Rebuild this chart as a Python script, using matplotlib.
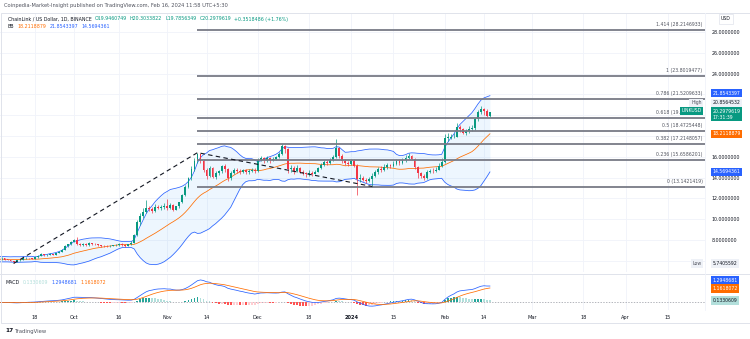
import numpy as np
import pandas as pd
import matplotlib
matplotlib.use("Agg")
import matplotlib.pyplot as plt
import matplotlib.dates as mdates
from matplotlib.patches import Rectangle

# ChainLink / US Dollar daily candles (Binance), 18 Aug 2023 -> 16 Feb 2024
first_open = 6.35

close_aug = [6.22, 6.27, 6.30, 6.14, 5.97, 6.16, 6.04, 6.06, 6.01, 6.05, 6.08, 6.52, 6.36, 6.21,
             6.08, 6.11, 6.13, 6.06, 6.10, 6.16]
high_aug = [6.45, 6.36, 6.38, 6.33, 6.18, 6.22, 6.20, 6.12, 6.09, 6.09, 6.12, 6.65, 6.60, 6.40,
            6.25, 6.15, 6.18, 6.16, 6.14, 6.22]
low_aug = [6.05, 6.14, 6.20, 6.08, 5.90, 5.94, 5.99, 6.00, 5.98, 5.99, 6.01, 6.05, 6.30, 6.15,
           6.02, 6.06, 6.07, 6.02, 6.03, 6.06]

close_sep = [6.24, 6.12, 6.10, 5.98, 5.88, 6.05, 6.12, 6.24, 6.28, 6.26, 6.21, 6.33, 6.47, 6.62,
             6.52, 6.58, 6.66, 6.60, 6.74, 6.88, 7.05, 7.40, 7.58, 7.82]
high_sep = [6.32, 6.27, 6.16, 6.12, 6.02, 6.10, 6.18, 6.30, 6.34, 6.31, 6.28, 6.38, 6.52, 6.70,
            6.66, 6.63, 6.70, 6.69, 6.78, 6.92, 7.12, 7.48, 7.66, 7.90]
low_sep = [6.10, 6.05, 6.04, 5.94, 5.7405592, 5.86, 6.00, 6.08, 6.19, 6.21, 6.16, 6.19, 6.30, 6.44,
           6.46, 6.48, 6.55, 6.55, 6.57, 6.70, 6.84, 7.02, 7.33, 7.52]

close_oct = [8.02, 7.58, 7.52, 7.63, 7.49, 7.68, 7.63, 7.58, 7.50, 7.45, 7.40, 7.38, 7.45, 7.50,
             7.52, 7.60, 7.50, 7.44, 7.58, 7.74, 8.45, 9.70, 10.30, 10.68, 11.10, 10.98, 10.74,
             11.18, 11.10, 11.16, 11.26]
high_oct = [8.12, 8.30, 7.70, 7.75, 7.70, 7.78, 7.74, 7.70, 7.64, 7.56, 7.52, 7.48, 7.52, 7.56,
            7.58, 7.72, 7.68, 7.58, 7.66, 7.92, 8.60, 9.90, 10.55, 11.05, 11.80, 11.30, 11.15,
            11.45, 11.35, 11.40, 11.55]
low_oct = [7.78, 7.50, 7.40, 7.46, 7.40, 7.44, 7.56, 7.52, 7.42, 7.36, 7.30, 7.28, 7.32, 7.40,
           7.44, 7.46, 7.40, 7.35, 7.40, 7.52, 7.70, 8.38, 9.45, 10.10, 10.55, 10.80, 10.60,
           10.70, 10.95, 10.90, 11.00]

close_nov = [11.05, 11.40, 10.88, 11.22, 11.62, 12.30, 13.10, 13.92, 14.80, 15.58, 16.25, 15.62,
             14.70, 14.18, 14.92, 14.08, 14.42, 14.60, 15.08, 14.78, 13.92, 14.48, 14.70, 14.66,
             14.55, 14.72, 14.50, 14.62, 14.76, 14.64]
high_nov = [11.90, 11.55, 11.45, 11.30, 11.70, 12.45, 13.30, 14.10, 15.10, 15.90, 16.4003650,
            16.30, 15.75, 14.90, 15.10, 15.00, 14.60, 14.75, 15.20, 15.35, 14.90, 14.62, 14.95,
            14.95, 14.80, 14.85, 14.80, 14.78, 14.95, 14.88]
low_nov = [10.90, 10.95, 10.75, 10.85, 11.10, 11.55, 12.20, 13.00, 13.75, 14.60, 15.45, 15.40,
           14.50, 13.90, 14.05, 13.95, 13.85, 14.25, 14.45, 14.55, 13.70, 13.80, 14.35, 14.45,
           14.35, 14.40, 14.30, 14.35, 14.50, 14.40]

close_dec = [15.72, 15.88, 15.65, 15.90, 15.70, 15.82, 15.95, 16.30, 17.00, 16.75, 14.85, 14.95,
             14.60, 14.95, 14.55, 14.45, 14.30, 14.48, 14.35, 14.58, 14.90, 15.25, 15.50, 15.40,
             15.70, 15.95, 16.80, 16.05, 15.60, 15.45, 15.30]
high_dec = [15.90, 16.05, 15.98, 16.05, 15.95, 16.00, 16.10, 16.45, 17.20, 17.10, 16.80, 15.25,
            15.10, 15.20, 15.05, 14.75, 14.55, 14.70, 14.65, 14.70, 15.05, 15.45, 15.70, 15.65,
            15.85, 16.15, 17.75, 16.95, 16.25, 15.80, 15.55]
low_dec = [14.55, 15.55, 15.45, 15.50, 15.45, 15.55, 15.70, 15.85, 16.20, 16.40, 14.40, 14.55,
           14.35, 14.50, 14.40, 14.25, 14.10, 14.20, 14.15, 14.30, 14.50, 14.80, 15.15, 15.20,
           15.30, 15.60, 15.85, 15.90, 15.45, 15.25, 15.10]

close_jan = [15.55, 15.15, 13.85, 14.00, 13.80, 13.70, 13.85, 14.20, 14.50, 14.80, 14.70, 15.00,
             15.20, 15.10, 15.35, 15.55, 15.40, 15.65, 15.90, 16.10, 15.80, 15.00, 14.40, 14.15,
             13.95, 14.50, 14.65, 14.60, 14.75, 15.15, 15.50]
high_jan = [15.75, 15.80, 15.30, 14.35, 14.20, 13.95, 14.05, 14.45, 14.75, 15.05, 15.10, 15.35,
            15.45, 15.35, 15.60, 15.75, 15.75, 15.90, 16.15, 16.35, 16.20, 15.90, 15.15, 14.55,
            14.30, 14.70, 14.85, 14.90, 15.00, 15.45, 15.85]
low_jan = [15.20, 15.00, 12.30, 13.60, 13.65, 13.50, 13.55, 13.1421419, 14.05, 14.30, 14.55,
           14.60, 14.85, 14.95, 15.00, 15.25, 15.25, 15.30, 15.50, 15.75, 15.65, 14.85, 14.00,
           13.95, 13.75, 13.85, 14.40, 14.45, 14.50, 14.75, 15.05]

close_feb = [17.85, 17.85, 17.90, 17.95, 18.85, 18.65, 18.25, 18.45, 18.65, 18.75, 19.60, 20.30,
             20.55, 20.40, 19.9460749, 20.2979619]
high_feb = [18.15, 18.30, 18.20, 18.30, 19.25, 19.05, 18.80, 18.70, 18.95, 19.05, 19.75, 20.50,
            20.8564532, 20.70, 20.55, 20.3033822]
low_feb = [15.40, 17.55, 17.75, 17.80, 17.90, 18.40, 18.15, 18.10, 18.30, 18.50, 18.60, 19.45,
           20.10, 20.05, 19.80, 19.7856349]

# indicator readouts of the last bar
bb_basis, bb_upper, bb_lower = 18.2118879, 21.8543397, 14.5694361
macd_hist, macd_line, macd_signal = 0.1330609, 1.2948681, 1.1618072

# trend based fib extension: anchors and levels
fib_anchor_dates = ["2023-09-11", "2023-11-11", "2024-01-08"]
fib_anchor_prices = [5.7405592, 16.4003650, 13.1421419]
fib_levels = ["0", "0.236", "0.382", "0.5", "0.618", "0.786", "1", "1.414"]
fib_prices = [13.1421419, 15.6586201, 17.2148057, 18.4725448, 19.7299019, 21.5209633,
              23.8019477, 28.2146933]

# time axis labels
tick_dates = ["2023-09-18", "2023-10-01", "2023-10-16", "2023-11-01", "2023-11-14", "2023-12-01",
              "2023-12-18", "2024-01-01", "2024-01-15", "2024-02-01", "2024-02-14", "2024-03-01",
              "2024-03-18", "2024-04-01", "2024-04-15"]
tick_labels = ["18", "Oct", "16", "Nov", "14", "Dec", "18", "2024", "15", "Feb", "14", "Mar",
               "18", "Apr", "15"]
price_ticks = [6, 8, 10, 12, 14, 16, 18, 20, 22, 24, 26, 28]
hidden_ticks = [6, 18, 20, 22]   # sit under the price tags

# ---- assemble series ----
close = close_aug + close_sep + close_oct + close_nov + close_dec + close_jan + close_feb
high = high_aug + high_sep + high_oct + high_nov + high_dec + high_jan + high_feb
low = low_aug + low_sep + low_oct + low_nov + low_dec + low_jan + low_feb
opn = [first_open] + close[:-1]
dates = pd.date_range("2023-08-18", periods=len(close), freq="D")

df = pd.DataFrame({"open": opn, "high": high, "low": low, "close": close}, index=dates)

# Bollinger bands (20, 2)
basis = df["close"].rolling(20).mean()
dev = df["close"].rolling(20).std(ddof=0)
upper = basis + 2 * dev
lower = basis - 2 * dev

# MACD (12, 26, 9)
ema12 = df["close"].ewm(span=12, adjust=False).mean()
ema26 = df["close"].ewm(span=26, adjust=False).mean()
macd = ema12 - ema26
signal = macd.ewm(span=9, adjust=False).mean()
hist = macd - signal

UP, DOWN = "#089981", "#f23645"
BLUE, ORANGE = "#2962ff", "#ff6d00"
TXT = "#131722"
GREY = "#50535e"
GRID = "#f0f3fa"
FS = 3.4

W, H = 750, 339
fig = plt.figure(figsize=(7.5, 3.39), dpi=100)
fig.patch.set_facecolor("white")


def fx(x):
    return x / W


def fy(y):
    return 1 - y / H


ax = fig.add_axes([0, fy(272), fx(705), fy(13) - fy(272)])
axm = fig.add_axes([0, fy(310), fx(705), fy(275) - fy(310)], sharex=ax)

xn = mdates.date2num(df.index)
x0 = mdates.date2num(pd.Timestamp("2023-09-06 12:00"))
x1 = mdates.date2num(pd.Timestamp("2024-04-27 08:00"))

# ---- price panel ----
ax.fill_between(xn, lower, upper, color="#2196f3", alpha=0.08, lw=0, zorder=1)
ax.plot(xn, upper, color=BLUE, lw=0.55, zorder=2)
ax.plot(xn, lower, color=BLUE, lw=0.55, zorder=2)
ax.plot(xn, basis, color=ORANGE, lw=0.55, zorder=2)

up = df["close"] >= df["open"]
cols = np.where(up, UP, DOWN)
ax.vlines(xn, df["low"], df["high"], colors=cols, lw=0.5, zorder=3)
body = (df["close"] - df["open"]).abs().clip(lower=0.04)
ax.bar(xn, body, bottom=np.minimum(df["open"], df["close"]), width=0.62,
       color=cols, linewidth=0, zorder=4)

# fib extension
fib_start = mdates.date2num(pd.Timestamp(fib_anchor_dates[1]))
for lvl, p in zip(fib_levels, fib_prices):
    ax.plot([fib_start, x1], [p, p], color="#787b86", lw=1.3, zorder=5, solid_capstyle="butt")
    ax.text(x1 - 0.8, p + 0.28, f"{lvl} ({p:.7f})", fontsize=3.3, color=GREY,
            ha="right", va="bottom", zorder=6)
ax.plot(mdates.date2num(pd.to_datetime(fib_anchor_dates)), fib_anchor_prices,
        color=TXT, lw=0.8, ls=(0, (4, 3)), zorder=5)

ax.set_xlim(x0, x1)
ax.set_ylim(4.92, 29.83)
ax.set_yticks(price_ticks)
ax.set_yticklabels(["" if v in hidden_ticks else f"{v:.7f}" for v in price_ticks])
ax.yaxis.tick_right()
ax.tick_params(axis="y", length=0, pad=5, labelsize=FS, labelcolor=TXT)
ax.tick_params(axis="x", length=0, labelbottom=False)
ax.grid(True, color=GRID, lw=0.6)
ax.set_axisbelow(True)
for s in ax.spines.values():
    s.set_visible(False)

# ---- MACD panel ----
hcols = []
prev = 0.0
for h in hist:
    if h >= 0:
        hcols.append("#26a69a" if h > prev else "#b2dfdb")
    else:
        hcols.append("#ffcdd2" if h > prev else "#ff5252")
    prev = h
axm.bar(xn, hist, width=0.62, color=hcols, linewidth=0, zorder=2)
axm.plot(xn, macd, color=BLUE, lw=0.55, zorder=3)
axm.plot(xn, signal, color=ORANGE, lw=0.55, zorder=3)
axm.axhline(0, color="#9598a1", lw=0.5, ls=(0, (2, 2)), zorder=1)
axm.set_ylim(-0.60, 2.13)
axm.set_yticks([])
axm.set_xticks(mdates.date2num(pd.to_datetime(tick_dates)))
axm.set_xticklabels(tick_labels)
for t in axm.get_xticklabels():
    if t.get_text() == "2024":
        t.set_fontweight("bold")
axm.tick_params(axis="x", length=0, pad=3.5, labelsize=3.6, labelcolor=TXT)
axm.grid(True, axis="x", color=GRID, lw=0.6)
axm.set_axisbelow(True)
for s in axm.spines.values():
    s.set_visible(False)
ax.set_xlim(x0, x1)

# frame and separators
fig.add_artist(Rectangle((fx(0.5), fy(323)), fx(749), fy(13) - fy(323), transform=fig.transFigure,
                         fill=False, edgecolor="#e0e3eb", lw=0.7))
fig.add_artist(plt.Line2D([0, 1], [fy(274), fy(274)], transform=fig.transFigure,
                          color="#e0e3eb", lw=0.7))
fig.add_artist(plt.Line2D([fx(705), fx(705)], [fy(13), fy(310)], transform=fig.transFigure,
                          color="#f0f3fa", lw=0.6))

renderer = fig.canvas.get_renderer()


def text_run(x, y, parts, gap=3):
    # writes coloured pieces one after another on the same baseline
    for s, c in parts:
        t = fig.text(fx(x), fy(y), s, fontsize=FS, color=c, va="center")
        x += t.get_window_extent(renderer).width + gap


# ---- header ----
fig.text(fx(4), fy(6), "Coinpedia-Market-Insight published on TradingView.com, Feb 16, 2024 11:58 UTC+5:30",
         fontsize=3.7, color=GREY, va="center")
text_run(8, 19, [("ChainLink / US Dollar, 1D, BINANCE", TXT), ("O19.9460749", UP),
                 ("H20.3033822", UP), ("L19.7856349", UP), ("C20.2979619", UP),
                 ("+0.3518486 (+1.76%)", UP)])
text_run(8, 27, [("BB", TXT), (f"{bb_basis:.7f}", ORANGE), (f"{bb_upper:.7f}", BLUE),
                 (f"{bb_lower:.7f}", BLUE)])
text_run(6, 283, [("MACD", TXT), (f"{macd_hist:.7f}", "#b2dfdb"), (f"{macd_line:.7f}", BLUE),
                  (f"{macd_signal:.7f}", ORANGE)])

fig.text(fx(5), fy(331), "17", fontsize=4.2, color=TXT, fontweight="bold", va="center")
fig.text(fx(15), fy(331), "TradingView", fontsize=3.8, color=GREY, va="center")

fig.text(fx(721), fy(19), "USD", fontsize=3.3, color=TXT, va="center",
         bbox=dict(boxstyle="square,pad=0.5", fc="white", ec="#e0e3eb", lw=0.5))


# ---- price scale tags ----
def tag(axis, value, text, fc, tc, dy=0):
    axis.annotate(text, xy=(1, value), xycoords=axis.get_yaxis_transform(),
                  xytext=(5.3, dy), textcoords="offset points", fontsize=3.3, color=tc,
                  ha="left", va="center", zorder=10, annotation_clip=False,
                  bbox=dict(boxstyle="square,pad=0.35", fc=fc, ec="none"))


def side_tag(axis, value, text, fc, tc, dy=0):
    axis.annotate(text, xy=(1, value), xycoords=axis.get_yaxis_transform(),
                  xytext=(-2.5, dy), textcoords="offset points", fontsize=3.3, color=tc,
                  ha="right", va="center", zorder=10, annotation_clip=False,
                  bbox=dict(boxstyle="square,pad=0.35", fc=fc, ec="none"))


hi_max = df["high"].max()
last_close = df["close"].iloc[-1]
low_min = df.loc["2023-09-07":, "low"].min()

tag(ax, bb_upper, f"{bb_upper:.7f}", BLUE, "white", dy=2.0)
tag(ax, hi_max, f"{hi_max:.7f}", "#eef1f7", TXT, dy=2.5)
side_tag(ax, hi_max, "High", "#eef1f7", GREY, dy=2.5)
tag(ax, last_close, f"{last_close:.7f}\n17:31:39", UP, "white", dy=-1.5)
side_tag(ax, last_close, "LINKUSD", UP, "white", dy=1.0)
tag(ax, bb_basis, f"{bb_basis:.7f}", ORANGE, "white")
tag(ax, bb_lower, f"{bb_lower:.7f}", BLUE, "white")
tag(ax, low_min, f"{low_min:.7f}", "#eef1f7", TXT)
side_tag(ax, low_min, "Low", "#eef1f7", GREY)

tag(axm, macd_line, f"{macd_line:.7f}", BLUE, "white", dy=4.0)
tag(axm, macd_signal, f"{macd_signal:.7f}", ORANGE, "white", dy=-0.8)
tag(axm, macd_hist, f"{macd_hist:.7f}", "#b2dfdb", TXT)

fig.savefig("out.png", dpi=100, facecolor="white")
